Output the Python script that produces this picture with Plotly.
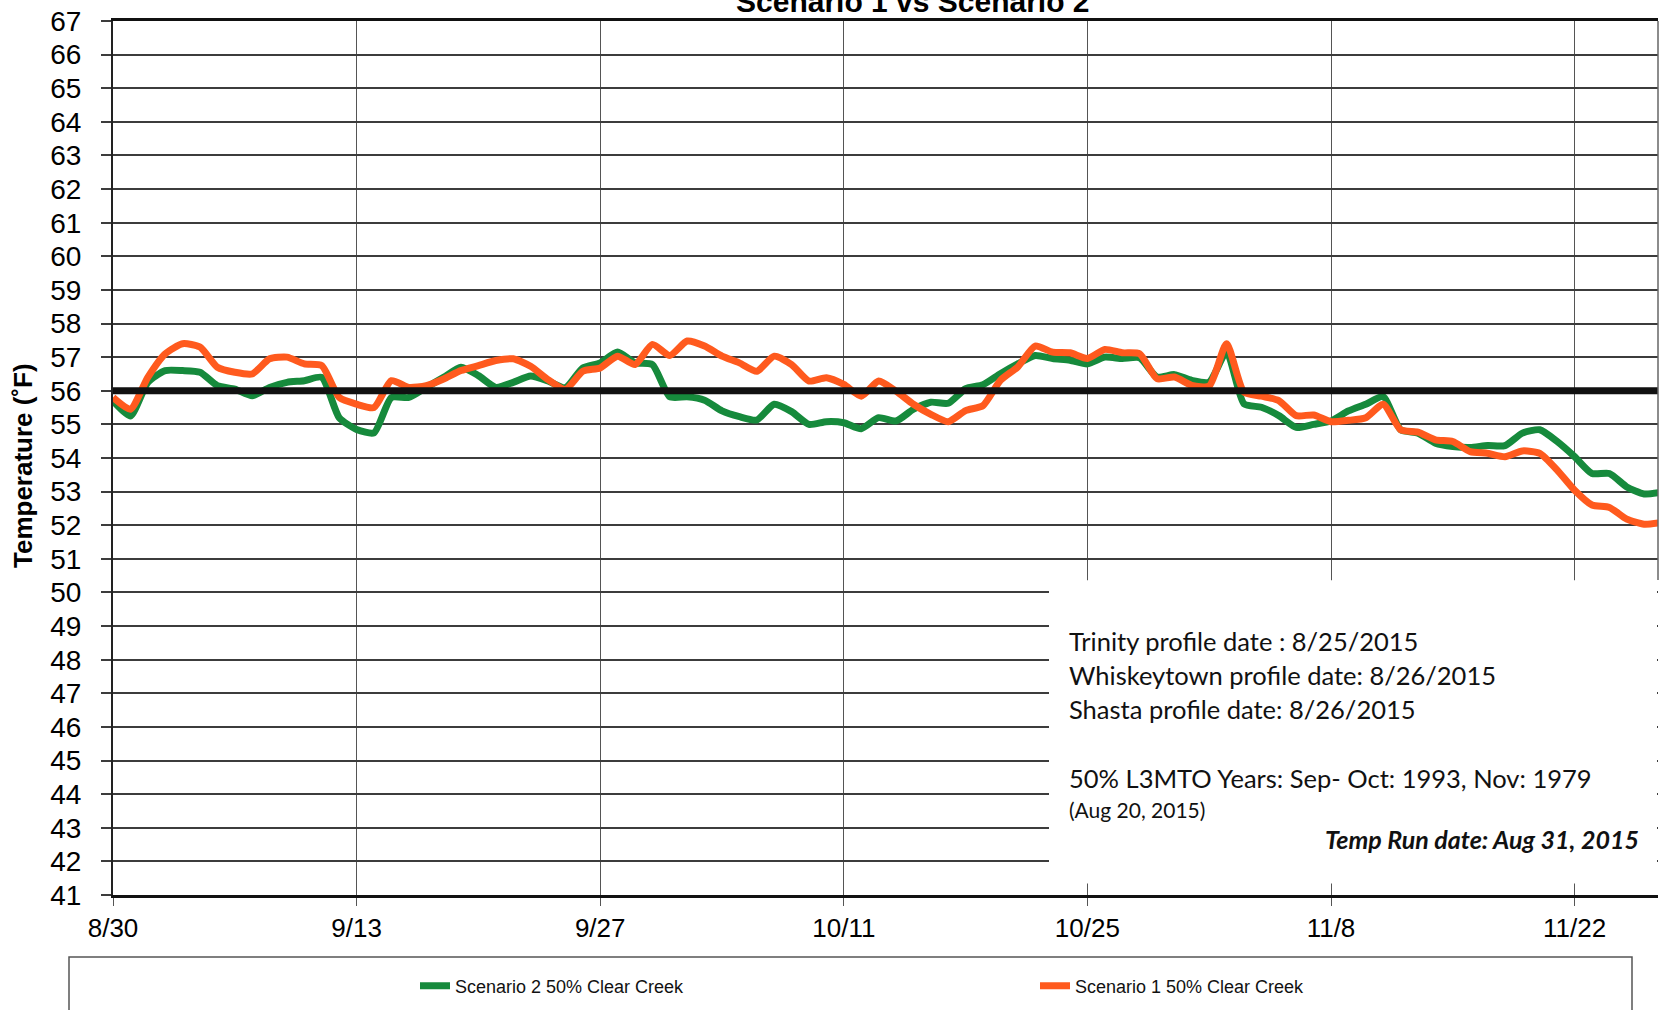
import datetime as dt
import plotly.graph_objects as go

# ---------------- data ----------------
n_days = 90
dates = [dt.date(2015, 8, 30) + dt.timedelta(days=i) for i in range(n_days)]

scenario2_clear_creek = [
    55.70, 55.25, 56.25, 56.60, 56.60, 56.55, 56.15, 56.05, 55.85, 56.10,
    56.25, 56.30, 56.40, 55.20, 54.85, 54.75, 55.80, 55.80, 56.10, 56.40,
    56.70, 56.45, 56.10, 56.25, 56.44, 56.29, 56.09, 56.68, 56.83, 57.15,
    56.83, 56.78, 55.82, 55.82, 55.72, 55.40, 55.23, 55.13, 55.60, 55.38,
    55.00, 55.08, 55.05, 54.87, 55.20, 55.10, 55.45, 55.66, 55.63, 56.06,
    56.18, 56.51, 56.80, 57.05, 56.96, 56.91, 56.80, 57.00, 56.96, 56.98,
    56.41, 56.48, 56.31, 56.26, 57.15, 55.61, 55.51, 55.26, 54.91, 55.00,
    55.10, 55.40, 55.60, 55.82, 54.84, 54.74, 54.44, 54.34, 54.31, 54.37,
    54.37, 54.74, 54.84, 54.49, 54.04, 53.54, 53.54, 53.14, 52.93, 52.98,
]

scenario1_clear_creek = [
    55.80, 55.45, 56.40, 57.10, 57.40, 57.30, 56.70, 56.55, 56.50, 56.95,
    57.00, 56.80, 56.75, 55.80, 55.60, 55.50, 56.30, 56.10, 56.15, 56.35,
    56.60, 56.75, 56.90, 56.95, 56.73, 56.33, 56.04, 56.58, 56.68, 57.03,
    56.78, 57.38, 57.05, 57.48, 57.33, 57.03, 56.83, 56.58, 57.03, 56.78,
    56.29, 56.39, 56.19, 55.84, 56.29, 55.99, 55.60, 55.30, 55.08, 55.41,
    55.56, 56.31, 56.71, 57.33, 57.15, 57.13, 56.96, 57.23, 57.13, 57.10,
    56.36, 56.41, 56.16, 56.14, 57.40, 55.96, 55.84, 55.71, 55.26, 55.28,
    55.08, 55.12, 55.20, 55.60, 54.84, 54.77, 54.54, 54.49, 54.19, 54.14,
    54.04, 54.21, 54.14, 53.64, 53.04, 52.60, 52.53, 52.18, 52.03, 52.08,
]

threshold_temp = 56
y_ticks = list(range(41, 68))
x_tick_dates = ["2015-08-30", "2015-09-13", "2015-09-27", "2015-10-11",
                "2015-10-25", "2015-11-08", "2015-11-22"]
x_tick_labels = ["8/30", "9/13", "9/27", "10/11", "10/25", "11/8", "11/22"]

series_names = ["Scenario 2 50% Clear Creek", "Scenario 1 50% Clear Creek"]
title_text = "Scenario 1 vs Scenario 2"
y_title = "Temperature (˚F)"
notes = [
    "Trinity profile date : 8/25/2015",
    "Whiskeytown profile date: 8/26/2015",
    "Shasta profile date: 8/26/2015",
    "50% L3MTO Years: Sep- Oct: 1993, Nov: 1979",
    "(Aug 20, 2015)",
]
run_note = "Temp Run date: Aug 31, 2015"

# ---------------- layout helpers ----------------
W, H = 1661, 1010
ML, MR, MT, MB = 113, 3, 21, 115
PW, PH = W - ML - MR, H - MT - MB
PX_PER_DAY = 17.4
PX_PER_DEG = 33.6
T0 = dt.datetime(2015, 8, 30)


def xp(px):
    return (px - ML) / PW


def yp(py):
    return (H - MB - py) / PH


def xdate(px):
    return T0 + dt.timedelta(days=(px - ML) / PX_PER_DAY)


def ytemp(py):
    return 67 - (py - MT) / PX_PER_DEG


GREEN = "#168a3c"
ORANGE = "#ff5a1e"

fig = go.Figure()
fig.add_trace(go.Scatter(
    x=dates, y=scenario2_clear_creek, mode="lines", name=series_names[0],
    line=dict(color=GREEN, width=7, shape="spline", smoothing=0.6),
))
fig.add_trace(go.Scatter(
    x=dates, y=scenario1_clear_creek, mode="lines", name=series_names[1],
    line=dict(color=ORANGE, width=7, shape="spline", smoothing=0.6),
))

fig.add_hline(y=threshold_temp, line=dict(color="#111111", width=7), layer="above")

# white notes box covering gridlines
fig.add_shape(type="rect", xref="x", yref="y",
              x0=xdate(1049), x1=xdate(1657), y0=ytemp(883), y1=ytemp(580),
              fillcolor="white", line=dict(width=0), layer="between")
# right border visible above box
fig.add_shape(type="line", xref="paper", yref="paper",
              x0=1, x1=1, y0=yp(580), y1=1,
              line=dict(color="#666666", width=1.5), layer="above")
# legend frame
fig.add_shape(type="rect", xref="paper", yref="paper",
              x0=xp(69), x1=xp(1632), y0=yp(1015), y1=yp(957),
              fillcolor="rgba(0,0,0,0)", line=dict(color="#555555", width=1.5),
              layer="above")

annotations = []
annotations.append(dict(
    text="<b>" + title_text + "</b>", xref="paper", yref="paper",
    x=xp(913), y=yp(2), xanchor="center", yanchor="middle", showarrow=False,
    font=dict(family="Liberation Sans, Arial", size=30, color="black"),
))
annotations.append(dict(
    text="<b>" + y_title + "</b>", xref="paper", yref="paper",
    x=xp(23), y=yp(466), xanchor="center", yanchor="middle", showarrow=False,
    textangle=-90,
    font=dict(family="Liberation Sans, Arial", size=26, color="black"),
))
note_y = [641, 675, 709, 778, 809]
note_size = [25.5, 25.5, 25.5, 25.5, 21]
for t, yy, sz in zip(notes, note_y, note_size):
    annotations.append(dict(
        text=t, xref="paper", yref="paper", x=xp(1067), y=yp(yy),
        xanchor="left", yanchor="middle", showarrow=False,
        font=dict(family="Lato, Carlito, Calibri, sans-serif", size=sz, color="#111111"),
    ))
annotations.append(dict(
    text="<b><i>" + run_note + "</i></b>", xref="paper", yref="paper",
    x=xp(1641), y=yp(839), xanchor="right", yanchor="middle", showarrow=False,
    font=dict(family="Lato, Carlito, Calibri, sans-serif", size=25, color="#111111"),
))

x_end = xdate(W - MR)

fig.update_layout(
    width=W, height=H,
    margin=dict(l=ML, r=MR, t=MT, b=MB, pad=0),
    paper_bgcolor="white", plot_bgcolor="white",
    font=dict(family="Liberation Sans, Arial", color="black"),
    showlegend=True,
    legend=dict(
        orientation="h", x=xp(415), xanchor="left", y=yp(986), yanchor="middle",
        font=dict(family="Liberation Sans, Arial", size=18, color="#111111"),
        entrywidth=575, bgcolor="rgba(0,0,0,0)", borderwidth=0,
    ),
    annotations=annotations,
    xaxis=dict(
        type="date", range=[T0, x_end],
        tickmode="array", tickvals=x_tick_dates, ticktext=x_tick_labels,
        showgrid=True, gridcolor="#555555", gridwidth=1,
        showline=True, linecolor="#111111", linewidth=2.5, mirror=True,
        ticks="outside", ticklen=8, tickwidth=1, tickcolor="#555555",
        tickfont=dict(family="Liberation Sans, Arial", size=26, color="black"),
        ticklabelstandoff=0, zeroline=False,
    ),
    yaxis=dict(
        range=[41, 67], tickmode="array", tickvals=y_ticks,
        ticktext=[str(v) for v in y_ticks],
        showgrid=True, gridcolor="#3c3c3c", gridwidth=2,
        showline=True, linecolor="#222222", linewidth=2,
        ticks="outside", ticklen=10, tickwidth=2, tickcolor="#3c3c3c",
        tickfont=dict(family="Liberation Sans, Arial", size=28, color="black"),
        ticklabelstandoff=14, zeroline=False,
    ),
)

fig.write_html("out.html", config={"displayModeBar": False},
               post_script="document.body.style.margin='0px';")
